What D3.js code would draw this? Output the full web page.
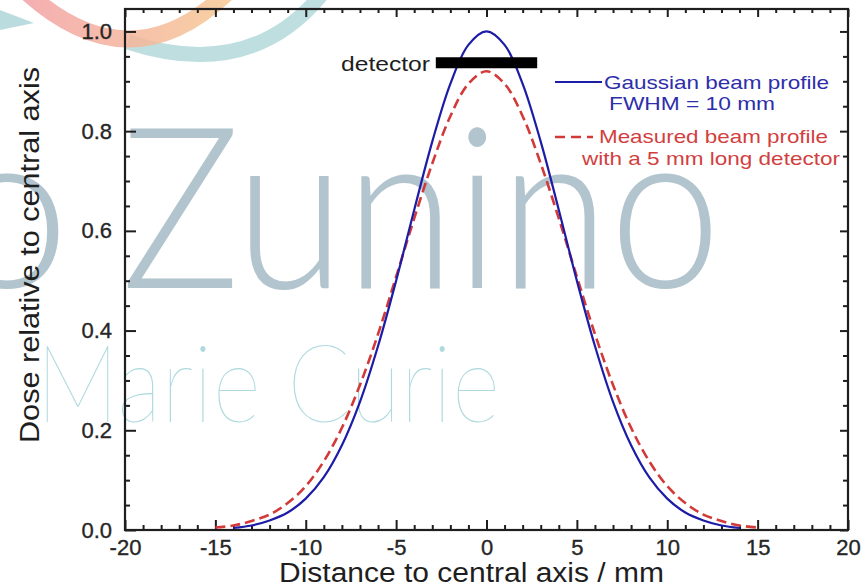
<!DOCTYPE html>
<html>
<head>
<meta charset="utf-8">
<script src="https://cdn.jsdelivr.net/npm/d3@7/dist/d3.min.js"></script>
<style>
  html, body { margin: 0; padding: 0; background: #ffffff; }
  svg { display: block; }
  text { font-family: "Liberation Sans", Arial, Helvetica, sans-serif; }
</style>
</head>
<body>
<svg id="chart" width="868" height="586"></svg>
<script>
// Beam profiles across the central axis (distance in mm, dose relative to the axis)
const gaussianDistance = [-14, -13, -12, -11, -10, -9, -8, -7, -6, -5, -4, -3, -2, -1, 0,
                          1, 2, 3, 4, 5, 6, 7, 8, 9, 10, 11, 12, 13, 14];
const gaussianDose = [0.004, 0.009, 0.019, 0.035, 0.063, 0.106, 0.170, 0.257, 0.369, 0.500,
                      0.642, 0.779, 0.895, 0.973, 1.000,
                      0.973, 0.895, 0.779, 0.642, 0.500, 0.369, 0.257, 0.170, 0.106, 0.063,
                      0.035, 0.019, 0.009, 0.004];

const measuredDistance = [-15, -14, -13, -12, -11, -10, -9, -8, -7, -6, -5, -4, -3, -2, -1, 0,
                          1, 2, 3, 4, 5, 6, 7, 8, 9, 10, 11, 12, 13, 14, 15];
const measuredDose = [0.005, 0.009, 0.018, 0.031, 0.054, 0.088, 0.138, 0.205, 0.291, 0.393,
                      0.508, 0.625, 0.735, 0.830, 0.895, 0.920,
                      0.895, 0.830, 0.735, 0.625, 0.508, 0.393, 0.291, 0.205, 0.138, 0.088,
                      0.054, 0.031, 0.018, 0.009, 0.005];

// Detector extent (5 mm long) and the height at which it is drawn
const detectorSpan = [-2.5, 2.5];
const detectorLevel = 0.937;

const xMajorTicks = [-20, -15, -10, -5, 0, 5, 10, 15, 20];
const yMajorTicks = [0.0, 0.2, 0.4, 0.6, 0.8, 1.0];

const legendLabels = ["Gaussian beam profile", "FWHM = 10 mm",
                      "Measured beam profile", "with a 5 mm long detector"];

const svg = d3.select("#chart");

const x = d3.scaleLinear().domain([-20, 20]).range([125, 848]);
const y = d3.scaleLinear().domain([0, 1.045]).range([530, 9]);

const ink = "#1e1e1e";
const blue = "#1c1ca6";
const red = "#d23a3a";

// ---- Overlaid watermark (drawn first, kept translucent) ----
const wm = svg.append("g").attr("pointer-events", "none");

const grad = svg.append("defs").append("linearGradient")
  .attr("id", "swoosh").attr("x1", "0%").attr("x2", "100%");
grad.append("stop").attr("offset", "0%").attr("stop-color", "#f2a0a4");
grad.append("stop").attr("offset", "100%").attr("stop-color", "#f6c893");

wm.append("path").attr("d", "M0,10 L34,23 L0,30 Z")
  .attr("fill", "#a9d3d6").attr("opacity", 0.8);
wm.append("path").attr("d", "M128,42 Q250,82 322,-6")
  .attr("fill", "none").attr("stroke", "#a9d3d6").attr("stroke-width", 15).attr("opacity", 0.75);
wm.append("path").attr("d", "M22,-12 Q128,88 228,-8")
  .attr("fill", "none").attr("stroke", "url(#swoosh)").attr("stroke-width", 17).attr("opacity", 0.85);

wm.append("text")
  .attr("x", 70).attr("y", 288).attr("text-anchor", "end")
  .style("font-family", "Lato, 'Open Sans', sans-serif").style("font-weight", 300)
  .style("font-size", "226px").attr("fill", "#9fb6c1").attr("opacity", 0.8)
  .text("o");

wm.append("text")
  .attr("x", 121).attr("y", 288)
  .attr("textLength", 600).attr("lengthAdjust", "spacingAndGlyphs")
  .style("font-family", "Lato, 'Open Sans', sans-serif").style("font-weight", 300)
  .style("font-size", "226px").attr("fill", "#9fb6c1").attr("opacity", 0.8)
  .text("Zunino");

wm.append("text")
  .attr("x", 36).attr("y", 422)
  .attr("textLength", 464).attr("lengthAdjust", "spacingAndGlyphs")
  .style("font-family", "Lato, 'Open Sans', sans-serif").style("font-weight", 100)
  .style("font-size", "108px").attr("fill", "#a6d6dc").attr("opacity", 0.9)
  .text("Marie Curie");

// ---- Axes: inward ticks on all four sides ----
const xMinor = d3.range(-20, 20.01, 1).filter(v => v % 5 !== 0);
const yMinor = d3.range(0, 1.0001, 0.05).map(v => +v.toFixed(2))
  .filter(v => Math.round(v * 100) % 20 !== 0);

function styleAxis(g) {
  g.select(".domain").remove();
  g.selectAll(".tick line").attr("stroke", ink).attr("stroke-width", 2);
  g.selectAll(".tick text").attr("fill", "#262626")
    .attr("stroke", "#262626").attr("stroke-width", 0.35)
    .style("font-family", "'Liberation Sans', Arial, sans-serif")
    .style("font-size", "22px");
}

svg.append("g").attr("transform", `translate(0,${y(0)})`)
  .call(d3.axisBottom(x).tickValues(xMajorTicks).tickSize(-10).tickPadding(9)
        .tickFormat(d3.format("d")))
  .call(styleAxis)
  .call(g => g.selectAll(".tick text").attr("dy", "0.72em").attr("y", 9)
              .text(d => d < 0 ? "-" + Math.abs(d) : d));
svg.append("g").attr("transform", `translate(0,${y(0)})`)
  .call(d3.axisBottom(x).tickValues(xMinor).tickSize(-5).tickFormat(""))
  .call(styleAxis);

svg.append("g").attr("transform", `translate(0,${y.range()[1]})`)
  .call(d3.axisTop(x).tickValues(xMajorTicks).tickSize(-8).tickFormat(""))
  .call(styleAxis);
svg.append("g").attr("transform", `translate(0,${y.range()[1]})`)
  .call(d3.axisTop(x).tickValues(xMinor).tickSize(-4).tickFormat(""))
  .call(styleAxis);

svg.append("g").attr("transform", `translate(${x(-20)},0)`)
  .call(d3.axisLeft(y).tickValues(yMajorTicks).tickSize(-11).tickPadding(13)
        .tickFormat(d3.format(".1f")))
  .call(styleAxis);
svg.append("g").attr("transform", `translate(${x(-20)},0)`)
  .call(d3.axisLeft(y).tickValues(yMinor).tickSize(-5).tickFormat(""))
  .call(styleAxis);

svg.append("g").attr("transform", `translate(${x(20)},0)`)
  .call(d3.axisRight(y).tickValues(yMajorTicks).tickSize(-8).tickFormat(""))
  .call(styleAxis);
svg.append("g").attr("transform", `translate(${x(20)},0)`)
  .call(d3.axisRight(y).tickValues(yMinor).tickSize(-5).tickFormat(""))
  .call(styleAxis);

// Plot frame
svg.append("rect")
  .attr("x", x(-20)).attr("y", y.range()[1])
  .attr("width", x(20) - x(-20)).attr("height", y(0) - y.range()[1])
  .attr("fill", "none").attr("stroke", ink).attr("stroke-width", 2.2);

// ---- Axis titles ----
svg.append("text")
  .attr("x", 279).attr("y", 582)
  .attr("textLength", 385).attr("lengthAdjust", "spacingAndGlyphs")
  .style("font-size", "27px").attr("fill", ink)
  .text("Distance to central axis / mm");

svg.append("text")
  .attr("transform", "translate(39,443) rotate(-90)")
  .attr("textLength", 376).attr("lengthAdjust", "spacingAndGlyphs")
  .style("font-size", "27px").attr("fill", ink)
  .text("Dose relative to central axis");

// ---- Profiles ----
const line = d3.line()
  .x(d => x(d[0])).y(d => y(d[1]))
  .curve(d3.curveCatmullRom.alpha(0.5));

svg.append("path")
  .datum(d3.zip(measuredDistance, measuredDose))
  .attr("d", line)
  .attr("fill", "none").attr("stroke", red)
  .attr("stroke-width", 2.6).attr("stroke-dasharray", "10,5");

svg.append("path")
  .datum(d3.zip(gaussianDistance, gaussianDose))
  .attr("d", line)
  .attr("fill", "none").attr("stroke", blue).attr("stroke-width", 2.2);

// ---- Detector bar ----
svg.append("line")
  .attr("x1", x(detectorSpan[0])).attr("x2", x(detectorSpan[1]))
  .attr("y1", y(detectorLevel)).attr("y2", y(detectorLevel))
  .attr("stroke", "#000").attr("stroke-width", 11).attr("stroke-linecap", "square");

svg.append("text")
  .attr("x", 341).attr("y", 71)
  .attr("textLength", 89).attr("lengthAdjust", "spacingAndGlyphs")
  .style("font-size", "20px").attr("fill", ink)
  .text("detector");

// ---- Legend ----
const legend = svg.append("g");
legend.append("line").attr("x1", 555).attr("x2", 602).attr("y1", 82).attr("y2", 82)
  .attr("stroke", blue).attr("stroke-width", 2);
legend.append("line").attr("x1", 555).attr("x2", 593).attr("y1", 137).attr("y2", 137)
  .attr("stroke", red).attr("stroke-width", 2.4).attr("stroke-dasharray", "10,6");

const legendText = [
  { t: legendLabels[0], x: 604, y: 89, w: 225, c: "#2e2eaa" },
  { t: legendLabels[1], x: 609, y: 110, w: 166, c: "#2e2eaa" },
  { t: legendLabels[2], x: 599, y: 143, w: 229, c: "#d23f3f" },
  { t: legendLabels[3], x: 582, y: 165, w: 258, c: "#d23f3f" }
];
legend.selectAll("text.lg").data(legendText).join("text")
  .attr("class", "lg")
  .attr("x", d => d.x).attr("y", d => d.y)
  .attr("textLength", d => d.w).attr("lengthAdjust", "spacingAndGlyphs")
  .style("font-size", "19px").attr("fill", d => d.c)
  .text(d => d.t);
</script>
</body>
</html>
